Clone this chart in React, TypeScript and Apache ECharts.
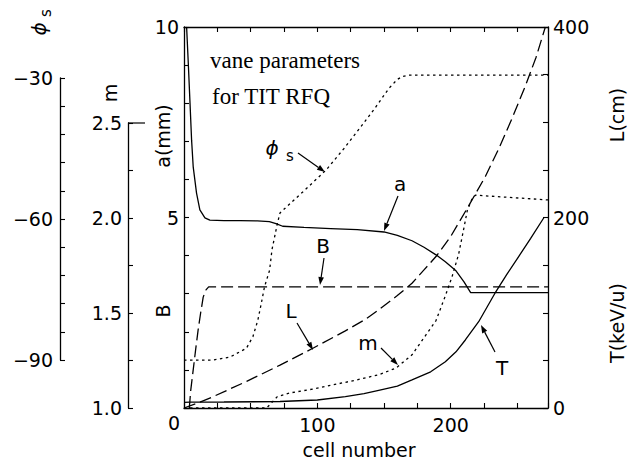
import React, { useEffect, useRef } from 'react';
import * as echarts from 'echarts';

// ---- data ----
// a(mm): left axis 0-10
const aCell = [1.7, 2.0, 3.2, 4.5, 5.7, 6.9, 9.4, 11.9, 15.7, 19.4, 30, 42, 55, 64, 69, 74, 90, 110, 130, 150, 160, 171, 180, 189, 196, 204, 210, 215, 273];
const aVal = [10, 9.97, 9.06, 8.01, 7.03, 6.33, 5.64, 5.2, 4.99, 4.93, 4.92, 4.92, 4.91, 4.89, 4.84, 4.77, 4.74, 4.71, 4.68, 4.62, 4.53, 4.39, 4.22, 4.02, 3.84, 3.6, 3.31, 3.03, 3.03];
// B: shares the a(mm) scale
const bCell = [4, 5, 6.9, 8.8, 10.6, 12.5, 14.4, 16.5, 18.5, 273];
const bVal = [0, 0.45, 1.0, 1.55, 2.05, 2.5, 2.91, 3.1, 3.18, 3.18];
// phi_s (deg)
const pCell = [0, 21.6, 34.3, 46.8, 51.7, 55.4, 58, 60.4, 64.2, 66, 70, 72, 90, 106.5, 120, 132.6, 143, 153.7, 160, 163.7, 168.7, 273];
const pVal = [-90, -90, -89.4, -87.5, -85.0, -81.5, -77.9, -74.4, -70.9, -66.5, -61, -58.7, -54, -49.6, -45, -40.4, -36.5, -32.2, -30.3, -29.7, -29.4, -29.4];
// m
const mCell = [0, 62, 66, 70, 80, 97, 129, 146, 159, 171, 179, 189, 196, 201, 206, 210, 212.5, 216, 218.5, 273];
const mVal = [1.0, 1.0, 1.03, 1.06, 1.08, 1.10, 1.147, 1.175, 1.21, 1.28, 1.36, 1.46, 1.59, 1.69, 1.81, 1.95, 2.04, 2.10, 2.12, 2.095];
// L (cm): right axis 0-400
const lCell = [0, 10, 22, 47, 72, 97, 121, 136, 146, 160, 171, 180, 189, 200, 213, 226, 236, 246, 256, 264, 271];
const lVal = [0, 5, 12, 28, 45, 63, 81, 93, 103, 118, 131, 145, 159, 180, 211, 243, 272, 304, 338, 368, 400];
// T (keV/u): right axis
const tCell = [0, 4.5, 30, 72, 100, 121, 135, 146, 160, 171, 185, 196, 204, 211, 221, 233, 242, 251, 260, 270];
const tVal = [6, 6.2, 6.3, 6.8, 8.4, 12, 15, 18.5, 23, 29.5, 38, 48.6, 59, 71.4, 90.6, 120, 140, 159, 178, 200];

const xTickLabels = [100, 200];
const originLabel = '0';
const aTickLabels = [5, 10];
const rightTickLabels = [0, 200, 400];
const mTickLabels = [1.0, 1.5, 2.0, 2.5];
const pTickLabels = [-30, -60, -90];

const SANS = 'DejaVu Sans';
const SERIF = 'Liberation Serif';
const BLACK = '#000';

const pairs = (xs: number[], ys: number[]) => xs.map((x, i) => [x, ys[i]]);

function lineSeries(name: string, xs: number[], ys: number[], yAxisIndex: number, type: any) {
  return {
    type: 'line',
    name,
    data: pairs(xs, ys),
    xAxisIndex: 0,
    yAxisIndex,
    showSymbol: false,
    symbol: 'none',
    silent: true,
    lineStyle: { color: BLACK, width: 1.3, type },
  };
}

function txt(text: string, x: number, y: number, size: number, family: string, rotation = 0, align = 'center', extra: any = {}) {
  return {
    type: 'text',
    x,
    y,
    rotation,
    silent: true,
    z: 10,
    style: {
      text,
      fontSize: size,
      fontFamily: family,
      fill: BLACK,
      align,
      verticalAlign: 'middle',
      ...extra,
    },
  };
}

function arrow(x1: number, y1: number, x2: number, y2: number) {
  const dx = x2 - x1;
  const dy = y2 - y1;
  const len = Math.hypot(dx, dy);
  const ux = dx / len;
  const uy = dy / len;
  const hl = 8;
  const hw = 2.8;
  const bx = x2 - ux * hl;
  const by = y2 - uy * hl;
  return [
    { type: 'line', silent: true, shape: { x1, y1, x2: bx, y2: by }, style: { stroke: BLACK, lineWidth: 1.2 } },
    {
      type: 'polygon',
      silent: true,
      shape: { points: [[x2, y2], [bx - uy * hw, by + ux * hw], [bx + uy * hw, by - ux * hw]] },
      style: { fill: BLACK },
    },
  ];
}

const axisLineStyle = { color: BLACK, width: 1.3 };
const labelBase = { color: BLACK, fontSize: 19, fontFamily: SANS };

export default function App() {
  const ref = useRef<HTMLDivElement>(null);

  useEffect(() => {
    if (!ref.current) return;
    const chart = echarts.init(ref.current, null, { renderer: 'svg' });

    const xAxisCommon = {
      type: 'value',
      gridIndex: 0,
      min: 0,
      max: 273,
      interval: 25,
      axisLine: { onZero: false, lineStyle: axisLineStyle },
      axisTick: { inside: true, length: 5, lineStyle: { color: BLACK, width: 1.1 } },
      splitLine: { show: false },
    };

    const option: any = {
      animation: false,
      backgroundColor: '#fff',
      grid: [
        { left: 184, top: 27, width: 364, height: 381 },
        { left: 128, top: 123, width: 10, height: 285 },
        { left: 60, top: 78, width: 10, height: 282 },
      ],
      xAxis: [
        {
          ...xAxisCommon,
          position: 'bottom',
          axisLabel: {
            ...labelBase,
            margin: 7,
            formatter: (v: number) => (xTickLabels.includes(v) ? String(v) : ''),
          },
        },
        { ...xAxisCommon, position: 'top', axisLabel: { show: false } },
        { type: 'value', gridIndex: 1, show: false, min: 0, max: 1 },
        { type: 'value', gridIndex: 2, show: false, min: 0, max: 1 },
      ],
      yAxis: [
        {
          type: 'value',
          gridIndex: 0,
          position: 'left',
          min: 0,
          max: 10,
          interval: 1,
          axisLine: { show: true, onZero: false, lineStyle: axisLineStyle },
          axisTick: { show: true, inside: true, length: 5, lineStyle: { color: BLACK, width: 1.1 } },
          axisLabel: {
            ...labelBase,
            margin: 5,
            formatter: (v: number) => (aTickLabels.includes(v) ? String(v) : ''),
          },
          splitLine: { show: false },
        },
        {
          type: 'value',
          gridIndex: 0,
          position: 'right',
          min: 0,
          max: 400,
          interval: 50,
          axisLine: { show: true, onZero: false, lineStyle: axisLineStyle },
          axisTick: { show: true, inside: true, length: 5, lineStyle: { color: BLACK, width: 1.1 } },
          axisLabel: {
            ...labelBase,
            margin: 5,
            formatter: (v: number) => (rightTickLabels.includes(v) ? String(v) : ''),
          },
          splitLine: { show: false },
        },
        { type: 'value', gridIndex: 0, show: false, min: 1, max: 3.005 },
        { type: 'value', gridIndex: 0, show: false, min: -100.2, max: -19.15 },
        {
          type: 'value',
          gridIndex: 1,
          position: 'left',
          min: 1,
          max: 2.5,
          interval: 0.25,
          axisLine: { show: true, onZero: false, lineStyle: axisLineStyle },
          axisTick: { show: true, inside: true, length: 5, lineStyle: { color: BLACK, width: 1.1 } },
          axisLabel: {
            ...labelBase,
            margin: 6,
            formatter: (v: number) =>
              mTickLabels.some((t) => Math.abs(t - v) < 1e-6) ? v.toFixed(1) : '',
          },
          splitLine: { show: false },
        },
        {
          type: 'value',
          gridIndex: 2,
          position: 'left',
          min: -90,
          max: -30,
          interval: 6,
          axisLine: { show: true, onZero: false, lineStyle: axisLineStyle },
          axisTick: { show: true, inside: true, length: 5, lineStyle: { color: BLACK, width: 1.1 } },
          axisLabel: {
            ...labelBase,
            margin: 7,
            formatter: (v: number) =>
              pTickLabels.includes(v) ? String(v).replace('-', '\u2212') : '',
          },
          splitLine: { show: false },
        },
      ],
      series: [
        lineSeries('a', aCell, aVal, 0, 'solid'),
        lineSeries('B', bCell, bVal, 0, [12, 5]),
        lineSeries('phi_s', pCell, pVal, 3, [2.5, 3.5]),
        lineSeries('m', mCell, mVal, 2, [2.5, 3.5]),
        lineSeries('L', lCell, lVal, 1, [12, 5]),
        lineSeries('T', tCell, tVal, 1, 'solid'),
      ],
      graphic: {
        elements: [
          // long tick at top of the m axis
          { type: 'line', silent: true, shape: { x1: 128, y1: 123, x2: 145, y2: 123 }, style: { stroke: BLACK, lineWidth: 1.2 } },
          // shared origin label
          txt(originLabel, 174, 423, 19, SANS),
          // axis names
          txt('\u03d5', 39, 29, 20, SANS, Math.PI / 2, 'center', { fontStyle: 'italic' }),
          txt('s', 46, 13, 15, SANS, Math.PI / 2),
          txt('m', 110, 93, 19, SANS, Math.PI / 2),
          txt('a(mm)', 163, 136, 19, SANS, Math.PI / 2),
          txt('B', 163, 311, 19, SANS, Math.PI / 2),
          txt('L(cm)', 617, 115, 19, SANS, Math.PI / 2),
          txt('T(keV/u)', 617, 323, 19, SANS, Math.PI / 2),
          txt('cell number', 359, 450, 19, SANS),
          // title
          txt('vane parameters', 210, 60, 23, SERIF, 0, 'left'),
          txt('for TIT RFQ', 212, 96, 23, SERIF, 0, 'left'),
          // curve labels
          txt('\u03d5', 272, 148, 20, SANS, 0, 'center', { fontStyle: 'italic' }),
          txt('s', 290, 156, 15, SANS),
          ...arrow(298, 153, 325, 172),
          txt('a', 400, 184, 20, SANS),
          ...arrow(398, 196, 384, 231),
          txt('B', 323, 246, 20, SANS),
          ...arrow(324, 258, 320, 285),
          txt('L', 291, 311, 20, SANS),
          ...arrow(297, 323, 313, 350),
          txt('m', 368, 343, 20, SANS),
          ...arrow(381, 348, 398, 365),
          txt('T', 502, 368, 20, SANS),
          ...arrow(495, 352, 481, 325),
        ],
      },
    };

    chart.setOption(option);
    return () => chart.dispose();
  }, []);

  return (
    <div
      ref={ref}
      style={{ position: 'fixed', left: 0, top: 0, width: 637, height: 465, background: '#fff' }}
    />
  );
}
